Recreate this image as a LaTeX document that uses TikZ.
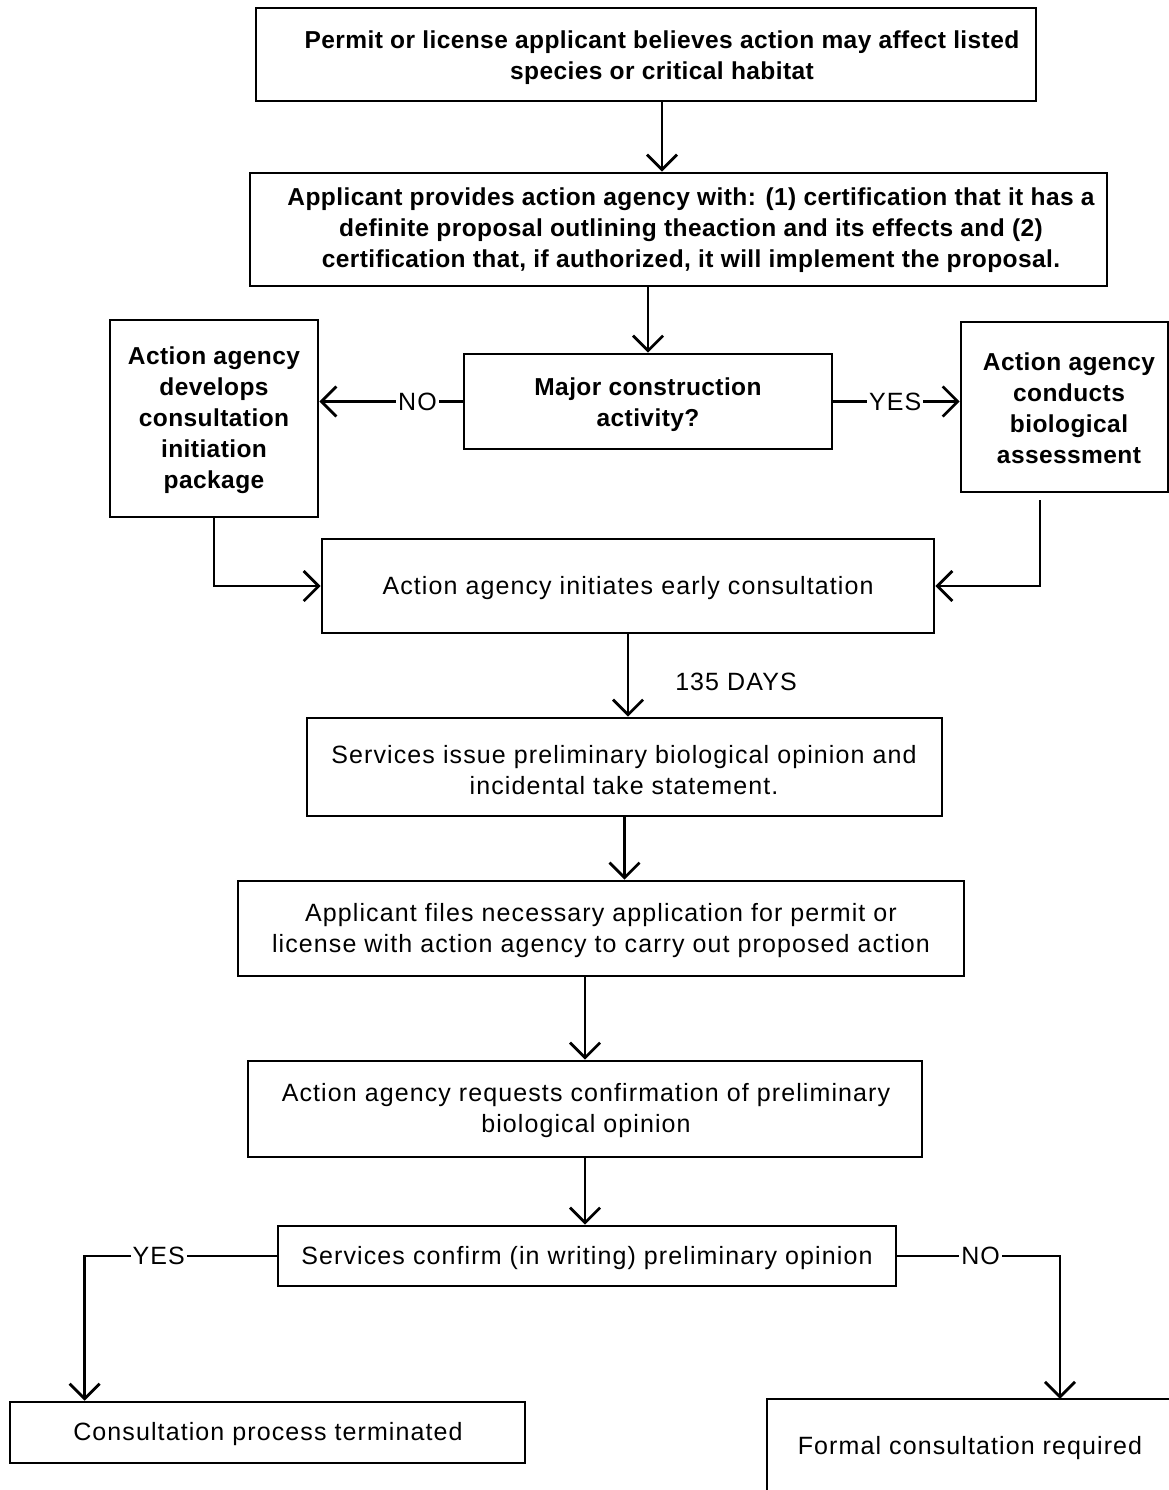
\documentclass[tikz,border=0pt]{standalone}
\usepackage{fontspec}
\setmainfont{Liberation Sans}
\newfontfamily\regfont[LetterSpace=4.4]{Liberation Sans}
\newfontfamily\boldfont[LetterSpace=1.7]{Liberation Sans Bold}
\usetikzlibrary{arrows.meta,calc}
\begin{document}
\begin{tikzpicture}[x=1pt,y=-1pt,
  boxstyle/.style={draw=black, line width=2.6pt, rectangle, inner sep=0pt},
  txt/.style={align=center, inner sep=0pt, yshift=-2.5pt, font=\regfont\fontsize{25}{31}\selectfont},
  btxt/.style={align=center, inner sep=0pt, yshift=-2.5pt, font=\boldfont\fontsize{24.5}{31}\selectfont},
  lbl/.style={fill=white, inner sep=2pt, font=\regfont\fontsize{25}{31}\selectfont},
  conn/.style={line width=2.8pt, -{Straight Barb[length=15pt,width=30pt,line width=2.8pt]}},
  plain/.style={line width=2.8pt}]
\useasboundingbox (0,0) rectangle (1168,1490);
% boxes
\node[boxstyle, minimum width=780, minimum height=93] (top) at (646,54.5) {};
\node[boxstyle, minimum width=857, minimum height=113] (box2) at (678.5,229.5) {};
\node[boxstyle, minimum width=208, minimum height=197] (left) at (214,418.5) {};
\node[boxstyle, minimum width=368, minimum height=95] (mid) at (648,401.5) {};
\node[boxstyle, minimum width=207, minimum height=170] (right) at (1064.5,407) {};
\node[boxstyle, minimum width=612, minimum height=94] (early) at (628,586) {};
\node[boxstyle, minimum width=635, minimum height=98] (serv) at (624.5,767) {};
\node[boxstyle, minimum width=726, minimum height=95] (files) at (601,928.5) {};
\node[boxstyle, minimum width=674, minimum height=96] (req) at (585,1109) {};
\node[boxstyle, minimum width=618, minimum height=60] (conf) at (587,1256) {};
\node[boxstyle, minimum width=515, minimum height=61] (term) at (267.5,1432.5) {};
\node[rectangle, inner sep=0pt, minimum width=406, minimum height=94] (formal) at (970,1446) {};
\draw[line width=2.6pt] (formal.north east) -- (formal.north west) -- (formal.south west);
% texts
\node[btxt] (t1) at (662,55) {Permit or license applicant believes action may affect listed\\species or critical habitat};
\node[btxt] (t2) at (691,228) {Applicant provides action agency with: (1) certification that it has a\\definite proposal outlining theaction and its effects and (2)\\certification that, if authorized, it will implement the proposal.};
\node[btxt] (t3) at (214,418) {Action agency\\develops\\consultation\\initiation\\package};
\node[btxt] (t4) at (648,402) {Major construction\\activity?};
\node[btxt] (t5) at (1069,406) {Action agency\\conducts\\biological\\assessment};
\node[txt] (t6) at (628,586) {Action agency initiates early consultation};
\node[txt] (t7) at (624,768) {Services issue preliminary biological opinion and\\incidental take statement.};
\node[txt] (t8) at (601,928) {Applicant files necessary application for permit or\\license with action agency to carry out proposed action};
\node[txt] (t9) at (586,1108) {Action agency requests confirmation of preliminary\\biological opinion};
\node[txt] (t10) at (587,1256) {Services confirm (in writing) preliminary opinion};
\node[txt] (t11) at (268,1432) {Consultation process terminated};
\node[txt] (t12) at (970,1446) {Formal consultation required};
\node[txt] (days) at (736,679) {135 DAYS};
% connectors
\draw[conn] (top.south -| t1) -- (box2.north -| t1);
\draw[conn] (box2.south -| mid.north) -- (mid.north);
\draw[conn] (mid.west) -- node[lbl, pos=0.315] (no1) {NO} (left.east |- mid.west);
\draw[conn] (mid.east) -- node[lbl, pos=0.49] (yes1) {YES} (right.west |- mid.east);
\draw[conn] (left.south) |- (early.west);
\coordinate (rb) at (1040,500);
\draw[conn] (rb) |- (early.east);
\draw[conn] (early.south) -- (serv.north -| early.south);
\draw[conn] (serv.south) -- (files.north -| serv.south);
\draw[conn] (files.south -| req.north) -- (req.north);
\draw[conn] (req.south) -- (conf.north -| req.south);
\draw[conn] (conf.west) -| node[lbl, pos=0.307] (yes2) {YES} ([xshift=76]term.north west);
\draw[conn] (conf.east) -| node[lbl, pos=0.256] (no2) {NO} ([xshift=90]formal.north);
\end{tikzpicture}
\end{document}
